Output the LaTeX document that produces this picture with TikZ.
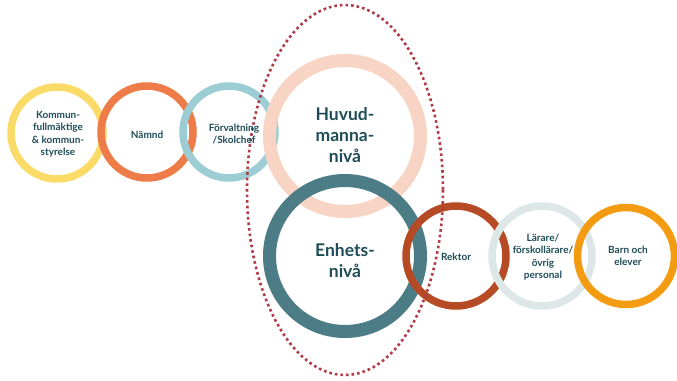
\documentclass[tikz,border=0pt]{standalone}
\usepackage{fontspec}
\setmainfont{Lato}
\begin{document}
\begin{tikzpicture}[x=1pt,y=-1pt,
  ring/.style={circle,minimum size=#1,inner sep=0pt},
  lbl/.style={font=\bfseries\fontsize{10}{12.5}\selectfont,text=txt,align=center},
  biglbl/.style={font=\bfseries\fontsize{17.5}{21}\selectfont,text=txt,align=center}]
\definecolor{txt}{HTML}{1E4D58}
\definecolor{cyel}{HTML}{FBDB68}
\definecolor{cora}{HTML}{EE7C48}
\definecolor{cblu}{HTML}{9CCDD4}
\definecolor{cpnk}{HTML}{F8D4C4}
\definecolor{ctea}{HTML}{4C7C86}
\definecolor{crst}{HTML}{B64A24}
\definecolor{cgry}{HTML}{DDE7E7}
\definecolor{cog}{HTML}{F39C12}
\definecolor{cdot}{HTML}{B13A47}
\useasboundingbox (0,0) rectangle (677,380);
\fill[white] (0,0) rectangle (677,380);
% rings
\node[ring=92pt,draw=cyel,line width=7.5pt] (c1) at (57,133) {};
\node[ring=92pt,draw=cora,line width=7.5pt] (c2) at (147,132) {};
\node[ring=92pt,draw=cblu,line width=7.5pt] (c3) at (229,132) {};
\node[ring=151pt,draw=cpnk,line width=13pt] (c4) at (345,136) {};
\node[ring=151pt,draw=ctea,line width=13pt] (c5) at (345,256) {};
\node[ring=100pt,draw=crst,line width=7.5pt] (c6) at (456,256) {};
\node[ring=100pt,draw=cgry,line width=7.5pt] (c7) at (542,256) {};
\node[ring=97pt,draw=cog,line width=7.5pt] (c8) at (626,256) {};
% dotted ellipse
\draw[cdot,line width=2.6pt,dash pattern=on 2.6pt off 3pt] (345,190) ellipse [x radius=98, y radius=185];
% labels
\node[lbl] (t1) at (58,134) {Kommun-\\fullmäktige\\\& kommun-\\styrelse};
\node[lbl] (t2) at (147,135) {Nämnd};
\node[lbl] (t3) at (234,134) {Förvaltning\\/Skolchef};
\node[biglbl] (t4) at (345,135) {Huvud-\\manna-\\nivå};
\node[biglbl] (t5) at (345,261) {Enhets-\\nivå};
\node[lbl] (t6) at (456,257) {Rektor};
\node[lbl] (t7) at (543,257) {Lärare/\\förskollärare/\\övrig\\personal};
\node[lbl] (t8) at (628,256) {Barn och\\elever};
\end{tikzpicture}
\end{document}
